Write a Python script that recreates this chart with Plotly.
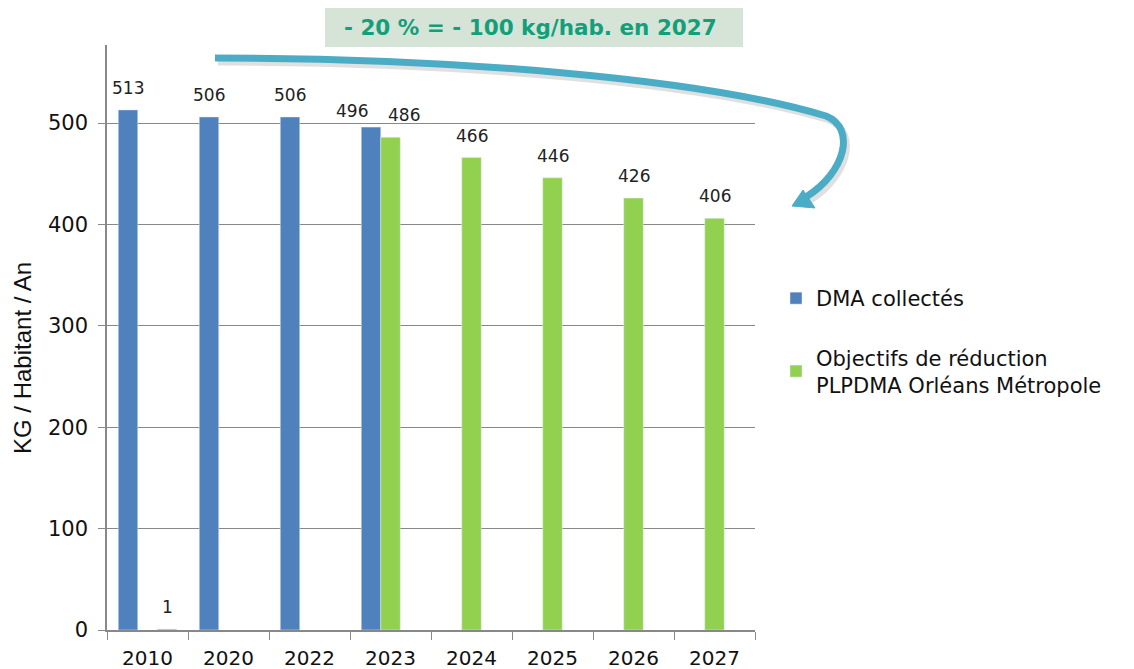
import plotly.graph_objects as go

# Data
years = ['2010', '2020', '2022', '2023', '2024', '2025', '2026', '2027']
dma_collectes = [513, 506, 506, 496, None, None, None, None]
objectifs = [None, None, None, 486, 466, 446, 426, 406]
reference_2010 = [1, None, None, None, None, None, None, None]

blue = '#4F81BD'
green = '#92D050'
font_family = 'DejaVu Sans, Arial, sans-serif'

# the page adds an 8px body margin, so the figure is 8px smaller
OFF = 8
W, H = 1134 - OFF, 669 - OFF
# plot area in reference pixels: x 107..755, y 45..630
L, R, T, B = 107, 755, 45, 630
def px(x):
    return (x - L) / (R - L)
def py(y):
    return (B - y) / (B - T)
def pt(x, y):
    return f'{px(x):.4f},{py(y):.4f}'

fig = go.Figure()
fig.add_trace(go.Bar(x=years, y=dma_collectes, name='DMA collectés',
                     marker_color=blue, legendgroup='a'))
fig.add_trace(go.Bar(x=years, y=objectifs,
                     name='Objectifs de réduction<br>PLPDMA Orléans Métropole',
                     marker_color=green, legendgroup='b'))
fig.add_trace(go.Bar(x=years, y=reference_2010, name='',
                     marker_color=green, showlegend=False))

# value labels, placed over each bar of the group (3 bars of ~19.5px)
# category axis: annotation x is the category index
bar_w = 19.5
labels = []
for series, dx in [(dma_collectes, -bar_w), (objectifs, 0), (reference_2010, bar_w)]:
    for i, (yr, v) in enumerate(zip(years, series)):
        if v is None:
            continue
        xs, ys = dx, 10
        if yr == '2023' and series is dma_collectes:
            xs, ys = dx - 19, 4   # pushed left to clear its neighbour
        elif yr == '2023' and series is objectifs:
            xs = dx + 13
        labels.append(dict(x=i, y=v, xref='x', yref='y', text=str(v),
                           showarrow=False, xshift=xs, yshift=ys,
                           yanchor='bottom', xanchor='center',
                           font=dict(size=17, color='#222222')))

# curved arrow
arrow = (f'M {pt(215, 58)} C {pt(450, 58)} {pt(700, 78)} {pt(826, 116)} '
         f'C {pt(856, 128)} {pt(846, 172)} {pt(806, 197)}')
shadow = (f'M {pt(218, 62)} C {pt(453, 62)} {pt(703, 82)} {pt(829, 120)} '
          f'C {pt(859, 132)} {pt(849, 176)} {pt(809, 201)}')
head = f'M {pt(792, 206)} L {pt(803, 190)} L {pt(815, 208)} Z'

fig.update_layout(
    shapes=[
        dict(type='rect', xref='paper', yref='paper',
             x0=px(325), x1=px(743), y0=py(47), y1=py(5),
             fillcolor='#D6E4D8', line_width=0, layer='below'),
        dict(type='path', xref='paper', yref='paper', path=shadow,
             line=dict(color='rgba(0,0,0,0.12)', width=7)),
        dict(type='path', xref='paper', yref='paper', path=arrow,
             line=dict(color='#4BACC6', width=7)),
        dict(type='path', xref='paper', yref='paper', path=head,
             fillcolor='#4BACC6', line=dict(color='#4BACC6', width=1)),
    ],
    annotations=labels + [
        dict(text='<b>- 20 % = - 100 kg/hab. en 2027</b>', xref='paper', yref='paper',
             x=px(530), y=py(27), xanchor='center', yanchor='middle', showarrow=False,
             font=dict(size=21.5, color='#11A07A', family=font_family)),
        dict(text='KG / Habitant / An', xref='paper', yref='paper',
             x=px(22), y=py(358), xanchor='center', yanchor='middle',
             textangle=-90, showarrow=False,
             font=dict(size=24, color='#111111', family='Liberation Sans, Arial, sans-serif')),
    ],
    barmode='group',
    bargap=0.278,
    bargroupgap=0,
    width=W, height=H,
    margin=dict(l=L - OFF, r=1134 - R, t=T - OFF, b=669 - B),
    paper_bgcolor='white',
    plot_bgcolor='white',
    font=dict(family=font_family, color='#222222'),
    showlegend=True,
    legend=dict(
        x=px(776), y=py(278), xanchor='left', yanchor='top',
        font=dict(size=21, color='#111111'),
        traceorder='grouped', tracegroupgap=29,
        itemwidth=30, bgcolor='rgba(0,0,0,0)'
    ),
    xaxis=dict(
        type='category', categoryorder='array', categoryarray=years,
        range=[-0.5, len(years) - 0.5], automargin=False,
        showline=True, linecolor='#888888', linewidth=1.5,
        ticks='outside', tickson='boundaries', ticklen=8, tickcolor='#888888',
        ticklabelstandoff=9,
        tickfont=dict(size=20, color='#111111'), showgrid=False
    ),
    yaxis=dict(
        range=[0, 577], dtick=100, automargin=False,
        showline=True, linecolor='#888888', linewidth=1.5,
        ticks='outside', ticklen=7, tickcolor='#888888', ticklabelstandoff=6,
        showgrid=True, gridcolor='#888888', gridwidth=1,
        tickfont=dict(size=21, color='#111111'),
        zeroline=False
    ),
)

fig.write_html('out.html')
